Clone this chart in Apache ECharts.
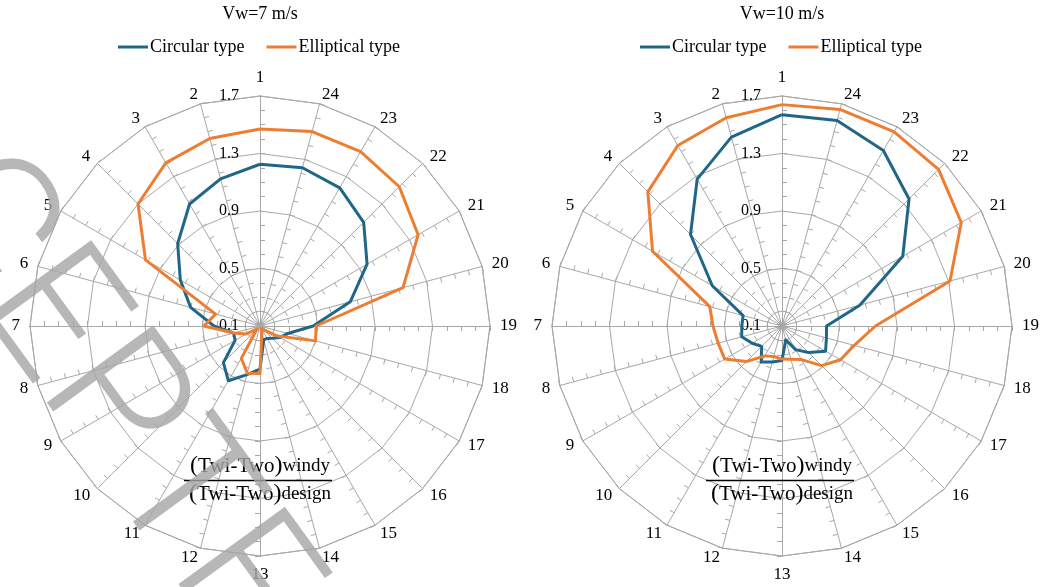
<!DOCTYPE html>
<html><head><meta charset="utf-8">
<script src="https://cdn.jsdelivr.net/npm/echarts@6/dist/echarts.min.js"></script>
<style>html,body{margin:0;padding:0;background:#fff}#c{width:1042px;height:587px}</style>
</head><body><div id="c"></div>
<script>
// ---------------- data ----------------
const directions = ['1','2','3','4','5','6','7','8','9','10','11','12','13','14','15','16','17','18','19','20','21','22','23','24'];
const radialMin = 0.1, radialMax = 1.7, radialStep = 0.4, minorStep = 0.1;
const seriesNames = ['Circular type', 'Elliptical type'];
const chartTitles = ['Vw=7 m/s', 'Vw=10 m/s'];
const circular7  = [1.225,1.16,1.08,0.91,0.74,0.60,0.42,0.29,0.30,0.46,0.54,0.45,0.40,0.20,0.20,0.22,0.26,0.30,0.47,0.75,0.96,1.12,1.21,1.24];
const elliptical7 = [1.47,1.45,1.41,1.30,1.02,0.42,0.49,0.29,0.21,0.13,0.36,0.44,0.43,0.15,0.12,0.14,0.24,0.50,0.49,1.13,1.37,1.47,1.50,1.50];
const circular10 = [1.57,1.46,1.28,1.00,0.66,0.38,0.38,0.39,0.34,0.30,0.39,0.36,0.34,0.20,0.29,0.36,0.45,0.42,0.41,0.66,1.07,1.35,1.51,1.58];
const elliptical10 = [1.64,1.60,1.55,1.42,1.14,0.62,0.58,0.56,0.56,0.45,0.34,0.32,0.33,0.34,0.37,0.49,0.57,0.62,0.75,1.31,1.54,1.64,1.66,1.66];
const watermarkText = 'ACCEPTED MANUSCRIPT';

// ---------------- style ----------------
const SERIF = '"Liberation Serif","Times New Roman",serif';
const BLUE = '#1f6688', ORANGE = '#ED7D31', GRID = '#a8a8a8';
const CY = 326, R = 230, CENTERS = [260, 782];

const chart = echarts.init(document.getElementById('c'));

function radarPair(cx) {
  const main = {
    center: [cx, CY], radius: R, startAngle: 90, shape: 'polygon',
    splitNumber: Math.round((radialMax - radialMin) / radialStep),
    indicator: directions.map(d => ({ name: d, min: radialMin, max: radialMax })),
    axisName: { color: '#000', fontFamily: SERIF, fontSize: 17 },
    nameGap: 10,
    splitLine: { lineStyle: { color: GRID, width: 1 } },
    splitArea: { show: false },
    axisLine: { lineStyle: { color: GRID, width: 1 } },
    axisTick: { show: false }, axisLabel: { show: false }
  };
  const ticks = {
    center: [cx, CY], radius: R, startAngle: 90, shape: 'polygon',
    splitNumber: Math.round((radialMax - radialMin) / minorStep),
    indicator: directions.map(() => ({ name: '', min: radialMin, max: radialMax })),
    axisName: { show: false },
    splitLine: { show: false }, splitArea: { show: false }, axisLine: { show: false },
    axisTick: { show: true, length: -5, lineStyle: { color: GRID, width: 1 } },
    axisLabel: { show: false }
  };
  return [main, ticks];
}

function radarSeries(radarIndex, circ, ell) {
  return {
    type: 'radar', radarIndex: radarIndex, symbol: 'none', silent: true,
    data: [
      { name: seriesNames[0], value: circ, lineStyle: { color: BLUE, width: 3 }, itemStyle: { color: BLUE } },
      { name: seriesNames[1], value: ell, lineStyle: { color: ORANGE, width: 3 }, itemStyle: { color: ORANGE } }
    ]
  };
}

function fraction(cx) {
  const rich = {
    p: { fontFamily: SERIF, fontSize: 24, fill: '#000' },
    t: { fontFamily: SERIF, fontSize: 21, fill: '#000' },
    s: { fontFamily: SERIF, fontSize: 19, fill: '#000' }
  };
  return [
    { type: 'text', x: cx, y: 466, z: 50, style: { text: '{p|(}{t|Twi-Two}{p|)}{s|windy}', rich: rich, align: 'center', verticalAlign: 'middle' } },
    { type: 'line', z: 50, shape: { x1: cx - 76, y1: 480.5, x2: cx + 72, y2: 480.5 }, style: { stroke: '#000', lineWidth: 1.3 } },
    { type: 'text', x: cx, y: 494, z: 50, style: { text: '{p|(}{t|Twi-Two}{p|)}{s|design}', rich: rich, align: 'center', verticalAlign: 'middle' } }
  ];
}

const legendBase = {
  data: seriesNames, icon: 'rect', itemWidth: 30, itemHeight: 3, itemGap: 22, padding: 0,
  textStyle: { fontFamily: SERIF, fontSize: 18, color: '#000', padding: [0, 0, 0, -3] },
  selectedMode: false
};

const yAxisBase = {
  type: 'value', min: radialMin, max: radialMax, interval: radialStep,
  axisLine: { show: false }, axisTick: { show: false }, splitLine: { show: false },
  axisLabel: { margin: 21, fontFamily: SERIF, fontSize: 16, color: '#000', formatter: v => v.toFixed(1) }
};

const option = {
  animation: false,
  backgroundColor: '#fff',
  radar: [...radarPair(CENTERS[0]), ...radarPair(CENTERS[1])],
  grid: CENTERS.map(cx => ({ left: cx, top: CY - R, width: 1, height: R, show: false })),
  xAxis: CENTERS.map((cx, i) => ({ gridIndex: i, type: 'value', show: false })),
  yAxis: CENTERS.map((cx, i) => Object.assign({ gridIndex: i }, yAxisBase)),
  legend: [
    Object.assign({ left: 118, top: 38 }, legendBase),
    Object.assign({ left: 640, top: 38 }, legendBase)
  ],
  series: [radarSeries(0, circular7, elliptical7), radarSeries(2, circular10, elliptical10)],
  graphic: [
    { type: 'text', x: CENTERS[0], y: 14, style: { text: chartTitles[0], font: '18px ' + SERIF, fill: '#000', align: 'center', verticalAlign: 'middle' } },
    { type: 'text', x: CENTERS[1], y: 14, style: { text: chartTitles[1], font: '18px ' + SERIF, fill: '#000', align: 'center', verticalAlign: 'middle' } },
    ...fraction(CENTERS[0]), ...fraction(CENTERS[1]),
    { type: 'text', x: -271, y: 44, rotation: -54 * Math.PI / 180, z: 100, silent: true,
      style: { text: watermarkText, font: '300 185px Roboto, "Liberation Sans", sans-serif', fill: 'rgba(165,165,165,0.8)', align: 'left', verticalAlign: 'bottom' } }
  ]
};
chart.setOption(option);
</script></body></html>
